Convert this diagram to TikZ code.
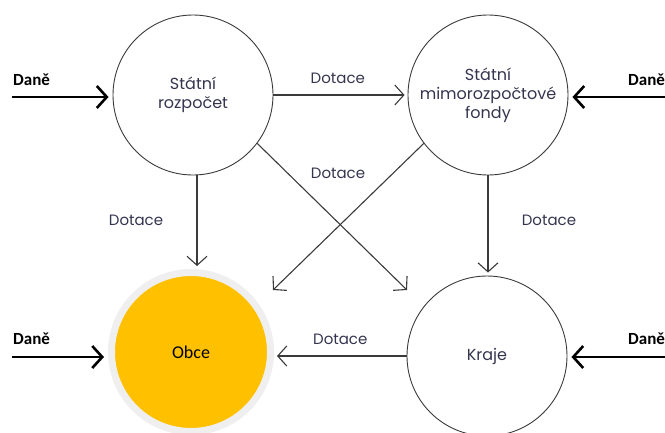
\documentclass[tikz,border=0pt]{standalone}
\usepackage{fontspec}
\usetikzlibrary{arrows.meta}
\newfontfamily\lblfont{Poppins}
\newfontfamily\calfont{Carlito}
\definecolor{txtblue}{HTML}{34344F}
\definecolor{obceyellow}{HTML}{FFC000}
\definecolor{ringgray}{HTML}{EFEFEF}
\definecolor{linegray}{HTML}{3A3A3A}

\begin{document}
\begin{tikzpicture}[x=1pt,y=-1pt,
        fund/.style={circle,draw=linegray,line width=0.9pt,minimum size=160pt,inner sep=0pt,
            align=center,text=txtblue,font=\lblfont\fontsize{16}{19}\selectfont},
        obec/.style={circle,fill=obceyellow,draw=ringgray,line width=7pt,minimum size=159pt,inner sep=0pt,
            font=\calfont\fontsize{18}{20}\selectfont},
        dot/.style={draw=linegray,line width=1.1pt,-{Straight Barb[length=9pt,width=20pt,line width=1.1pt]},shorten >=3pt},
        tax/.style={draw=black,line width=2.6pt,-{Straight Barb[length=10pt,width=22pt,line width=2.6pt]},shorten >=4pt},
        lbl/.style={text=txtblue,font=\lblfont\fontsize{15}{18}\selectfont},
        taxlbl/.style={anchor=west,inner sep=0pt,font=\calfont\bfseries\fontsize{17}{20}\selectfont}]
    \useasboundingbox (0,0) rectangle (665,432);

    \node[fund] (sr) at (193,95) {Státní\\rozpočet};
    \node[fund] (smf) at (488,95) {Státní\\mimorozpočtové\\fondy};
    \node[obec] (obce) at (191,352) {Obce};
    \node[fund] (kraje) at (487,356) {Kraje};

    % dane
    \coordinate (in1) at (12,97);
    \coordinate (in2) at (665,97);
    \coordinate (in3) at (12,357);
    \coordinate (in4) at (665,357);
    \draw[tax] (in1) -- (in1 -| sr.west);
    \draw[tax] (in2) -- (in2 -| smf.east);
    \draw[tax] (in3) -- (in3 -| obce.west);
    \draw[tax] (in4) -- (in4 -| kraje.east);
    \node[taxlbl] (d1) at (13,80) {Daně};
    \node[taxlbl] (d2) at (628,80) {Daně};
    \node[taxlbl] (d3) at (13,339) {Daně};
    \node[taxlbl] (d4) at (628,339) {Daně};

    % dotace
    \coordinate (x1) at (407,290);
    \coordinate (x2) at (273,290);
    \draw[dot] (sr.east) -- node[lbl,above=7pt,pos=0.48] (t1) {Dotace} (smf.west);
    \draw[dot] ([xshift=4pt]sr.south) -- node[lbl,left=30pt,pos=0.48] (t2) {Dotace} ([xshift=4pt]sr.south |- obce.north);
    \draw[dot,shorten >=0pt] (sr.-37) -- (x1);
    \draw[dot,shorten >=0pt] (smf.-143) -- (x2);
    \node[lbl] (t3) at (338,173) {Dotace};
    \draw[dot] (smf.south) -- node[lbl,right=30pt,pos=0.45] (t4) {Dotace} (smf.south |- kraje.north);
    \draw[dot] (kraje.west) -- node[lbl,above=7pt] (t5) {Dotace} (kraje.west -| obce.east);
\end{tikzpicture}
\end{document}
